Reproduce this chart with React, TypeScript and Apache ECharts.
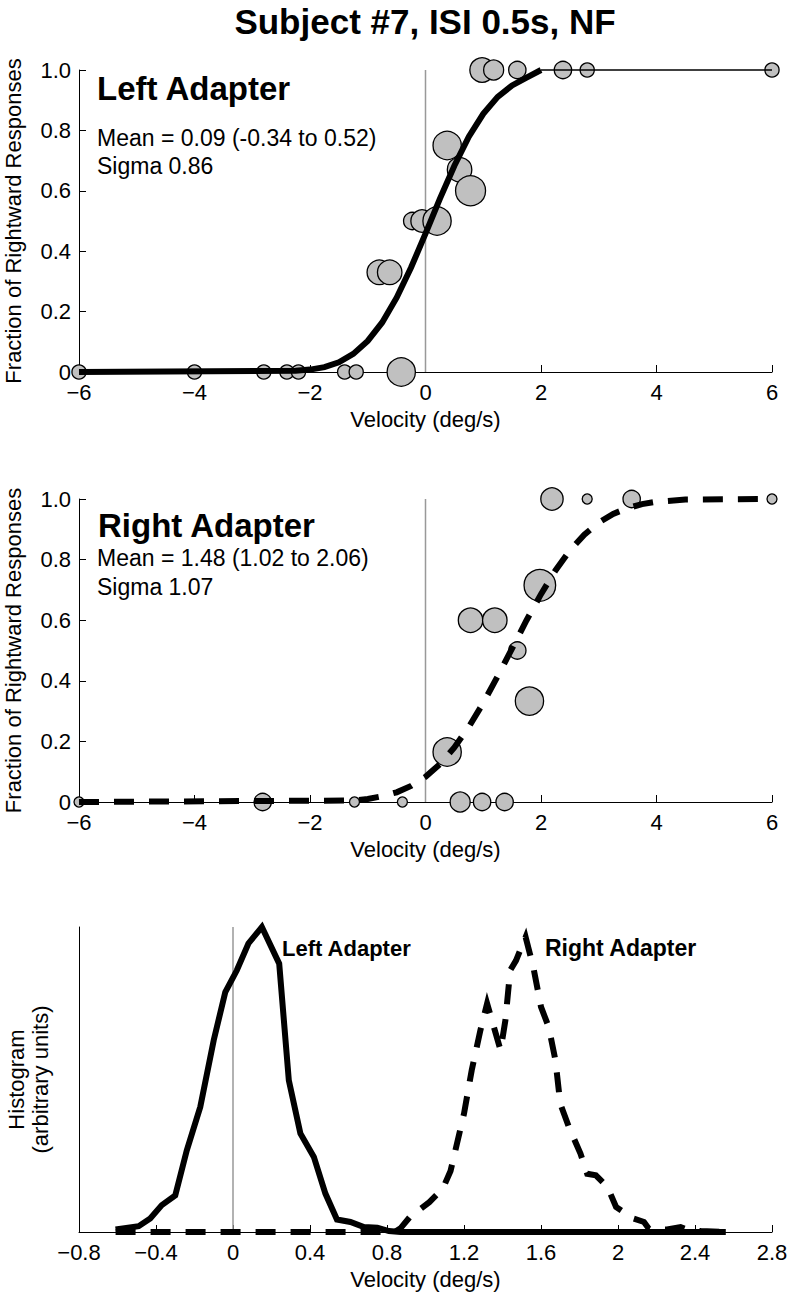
import React, { useEffect, useRef } from "react";
import * as echarts from "echarts";

// ---------- Panel 1: Left Adapter (psychometric data) ----------
const leftV = [-6, -4, -2.8, -2.4, -2.2, -1.4, -1.2, -0.8, -0.62, -0.42, -0.23, -0.06, 0.2, 0.375, 0.59, 0.78, 0.98, 1.18, 1.59, 2.38, 2.8, 6];
const leftFrac = [0, 0, 0, 0, 0, 0, 0, 0.33, 0.33, 0, 0.5, 0.5, 0.5, 0.75, 0.67, 0.6, 1, 1, 1, 1, 1, 1];
const leftN = [2, 2, 2, 2, 2, 2, 2, 6, 6, 8, 3, 5, 8, 8, 6, 9, 6, 4, 3, 3, 2, 2];

const leftFitV = [-6, -2.25, -2, -1.75, -1.5, -1.25, -1, -0.75, -0.5, -0.25, 0, 0.25, 0.5, 0.75, 1, 1.25, 1.5, 1.75, 2];
const leftFitP = [0, 0.004, 0.008, 0.016, 0.032, 0.06, 0.103, 0.164, 0.246, 0.346, 0.458, 0.574, 0.683, 0.779, 0.855, 0.911, 0.949, 0.975, 1.0];
const leftTailV = [2, 6];
const leftTailP = [1, 1];

// ---------- Panel 2: Right Adapter ----------
const rightV = [-6, -2.82, -1.23, -0.4, 0.375, 0.6, 0.78, 0.98, 1.2, 1.37, 1.59, 1.8, 1.98, 2.19, 2.8, 3.57, 6];
const rightFrac = [0, 0, 0, 0, 0.165, 0, 0.6, 0, 0.6, 0, 0.5, 0.333, 0.715, 1, 1, 1, 1];
const rightN = [1, 3, 1, 1, 8, 4, 6, 3, 6, 3, 3, 8, 10, 5, 1, 3, 1];

const rightFitV = [-6, -1.25, -1, -0.75, -0.5, -0.25, 0, 0.25, 0.5, 0.75, 1, 1.25, 1.5, 1.75, 2, 2.25, 2.5, 2.75, 3, 3.25, 3.5, 3.75, 4, 4.5, 6];
const rightFitP = [0, 0.005, 0.01, 0.019, 0.032, 0.053, 0.083, 0.125, 0.18, 0.248, 0.327, 0.415, 0.507, 0.6, 0.686, 0.764, 0.83, 0.882, 0.922, 0.951, 0.97, 0.983, 0.991, 0.998, 1];

// ---------- Panel 3: Histograms ----------
const histLeftV = [-0.61, -0.49, -0.43, -0.37, -0.3, -0.24, -0.17, -0.1, -0.04, 0.02, 0.08, 0.15, 0.24, 0.29, 0.35, 0.42, 0.48, 0.54, 0.61, 0.68, 0.75, 0.81, 0.87, 2.56];
const histLeftH = [0.008, 0.019, 0.044, 0.088, 0.12, 0.268, 0.41, 0.629, 0.787, 0.858, 0.946, 1.0, 0.88, 0.497, 0.323, 0.246, 0.126, 0.041, 0.033, 0.016, 0.014, 0.003, 0, 0];
const histRightV = [-0.61, 0.84, 0.87, 0.92, 1.02, 1.09, 1.13, 1.2, 1.24, 1.285, 1.32, 1.39, 1.415, 1.44, 1.47, 1.52, 1.56, 1.6, 1.64, 1.675, 1.7, 1.745, 1.805, 1.84, 1.885, 1.945, 1.99, 2.08, 2.135, 2.16, 2.255, 2.325, 2.35, 2.43, 2.56];
const histRightH = [0, 0, 0.012, 0.05, 0.098, 0.142, 0.2, 0.388, 0.53, 0.661, 0.749, 0.596, 0.694, 0.858, 0.89, 0.967, 0.869, 0.738, 0.672, 0.563, 0.421, 0.344, 0.257, 0.191, 0.186, 0.148, 0.082, 0.044, 0.033, 0.011, 0.008, 0.016, 0.01, 0.003, 0];

const zeroLineX = [0, 0];
const zeroLineY = [0, 1];

const FONT = "'Liberation Sans', Arial, Helvetica, sans-serif";

const pairs = (xs: number[], ys: number[]) => xs.map((x, i) => [x, ys[i]]);
const triples = (xs: number[], ys: number[], ns: number[]) => xs.map((x, i) => [x, ys[i], ns[i]]);

const numFmt = (v: number) => {
  const r = Math.round(v * 10) / 10;
  return r < 0 ? "\u2212" + String(-r) : String(r);
};
const fracFmt = (v: number) => (Math.abs(v) < 1e-9 ? "0" : v.toFixed(1));

const textStyle = { color: "#000", fontSize: 22, fontFamily: FONT };

function xAxisFor(gridIndex: number, min: number, max: number, interval: number) {
  return {
    gridIndex,
    type: "value",
    min,
    max,
    interval,
    axisLine: { show: true, onZero: false, lineStyle: { color: "#000", width: 1 } },
    axisTick: { show: true, inside: true, length: 7, lineStyle: { color: "#000", width: 1 } },
    axisLabel: { ...textStyle, margin: 9, formatter: numFmt, showMinLabel: true, showMaxLabel: true },
    splitLine: { show: false },
    name: "Velocity (deg/s)",
    nameLocation: "middle",
    nameGap: 36,
    nameTextStyle: textStyle,
  };
}

function yAxisFrac(gridIndex: number) {
  return {
    gridIndex,
    type: "value",
    min: 0,
    max: 1,
    interval: 0.2,
    axisLine: { show: true, onZero: false, lineStyle: { color: "#000", width: 1 } },
    axisTick: { show: true, inside: true, length: 7, lineStyle: { color: "#000", width: 1 } },
    axisLabel: { ...textStyle, margin: 8, formatter: fracFmt, showMinLabel: true, showMaxLabel: true },
    splitLine: { show: false },
    name: "Fraction of Rightward Responses",
    nameLocation: "middle",
    nameGap: 55,
    nameTextStyle: textStyle,
  };
}

function scatterSeries(idx: number, data: number[][]) {
  return {
    type: "scatter",
    xAxisIndex: idx,
    yAxisIndex: idx,
    data,
    symbol: "circle",
    symbolSize: (val: number[]) => 10 * Math.sqrt(val[2]),
    itemStyle: { color: "#c0c0c0", borderColor: "#000", borderWidth: 1.3, opacity: 1 },
    clip: false,
    z: 2,
    silent: true,
  };
}

function lineSeries(idx: number, data: number[][], width: number, dashed: boolean, z: number, color = "#000") {
  return {
    type: "line",
    xAxisIndex: idx,
    yAxisIndex: idx,
    data,
    showSymbol: false,
    symbol: "none",
    clip: false,
    lineStyle: {
      color,
      width,
      type: dashed ? [20, 15] : "solid",
      cap: "butt",
      join: "miter",
    },
    z,
    silent: true,
  };
}

export default function App() {
  const ref = useRef<HTMLDivElement>(null);

  useEffect(() => {
    if (!ref.current) return;
    const chart = echarts.init(ref.current, null, { renderer: "svg" });

    const option: any = {
      animation: false,
      backgroundColor: "#fff",
      textStyle: { fontFamily: FONT },
      grid: [
        { left: 79, top: 70, width: 693, height: 302, outerBoundsMode: "none", containLabel: false },
        { left: 79, top: 499, width: 693, height: 303, outerBoundsMode: "none", containLabel: false },
        { left: 79, top: 927, width: 693, height: 305, outerBoundsMode: "none", containLabel: false },
      ],
      xAxis: [xAxisFor(0, -6, 6, 2), xAxisFor(1, -6, 6, 2), xAxisFor(2, -0.8, 2.8, 0.4)],
      yAxis: [
        yAxisFrac(0),
        yAxisFrac(1),
        {
          gridIndex: 2,
          type: "value",
          min: 0,
          max: 1,
          axisLine: { show: true, onZero: false, lineStyle: { color: "#000", width: 1 } },
          axisTick: { show: false },
          axisLabel: { show: false },
          splitLine: { show: false },
          name: "Histogram\n(arbitrary units)",
          nameLocation: "middle",
          nameGap: 27,
          nameTextStyle: { ...textStyle, lineHeight: 24, align: "center" },
        },
      ],
      series: [
        lineSeries(0, pairs(zeroLineX, zeroLineY), 1.5, false, 1, "#999"),
        scatterSeries(0, triples(leftV, leftFrac, leftN)),
        lineSeries(0, pairs(leftFitV, leftFitP), 6, false, 3),
        lineSeries(0, pairs(leftTailV, leftTailP), 1.5, false, 3),

        lineSeries(1, pairs(zeroLineX, zeroLineY), 1.5, false, 1, "#999"),
        scatterSeries(1, triples(rightV, rightFrac, rightN)),
        lineSeries(1, pairs(rightFitV, rightFitP), 6, true, 3),

        lineSeries(2, pairs(zeroLineX, zeroLineY), 1.5, false, 1, "#999"),
        lineSeries(2, pairs(histRightV, histRightH), 6, true, 3),
        lineSeries(2, pairs(histLeftV, histLeftH), 6, false, 4),
      ],
      graphic: [
        {
          type: "text",
          x: 425,
          y: 21,
          style: { text: "Subject #7, ISI 0.5s, NF", fill: "#000", font: `bold 35px ${FONT}`, align: "center", verticalAlign: "middle" },
        },
        {
          type: "text",
          x: 97,
          y: 88,
          style: { text: "Left Adapter", fill: "#000", font: `bold 33px ${FONT}`, align: "left", verticalAlign: "middle" },
        },
        {
          type: "text",
          x: 97,
          y: 138,
          style: { text: "Mean = 0.09 (-0.34 to 0.52)", fill: "#000", font: `23px ${FONT}`, align: "left", verticalAlign: "middle" },
        },
        {
          type: "text",
          x: 97,
          y: 166,
          style: { text: "Sigma 0.86", fill: "#000", font: `23px ${FONT}`, align: "left", verticalAlign: "middle" },
        },
        {
          type: "text",
          x: 98,
          y: 525,
          style: { text: "Right Adapter", fill: "#000", font: `bold 33px ${FONT}`, align: "left", verticalAlign: "middle" },
        },
        {
          type: "text",
          x: 97,
          y: 558,
          style: { text: "Mean = 1.48 (1.02 to 2.06)", fill: "#000", font: `23px ${FONT}`, align: "left", verticalAlign: "middle" },
        },
        {
          type: "text",
          x: 97,
          y: 587,
          style: { text: "Sigma 1.07", fill: "#000", font: `23px ${FONT}`, align: "left", verticalAlign: "middle" },
        },
        {
          type: "text",
          x: 282,
          y: 948,
          style: { text: "Left Adapter", fill: "#000", font: `bold 22px ${FONT}`, align: "left", verticalAlign: "middle" },
        },
        {
          type: "text",
          x: 545,
          y: 948,
          style: { text: "Right Adapter", fill: "#000", font: `bold 23px ${FONT}`, align: "left", verticalAlign: "middle" },
        },
      ],
    };

    chart.setOption(option);
    return () => chart.dispose();
  }, []);

  return (
    <div
      ref={ref}
      style={{ position: "absolute", left: 0, top: 0, width: 789, height: 1295, background: "#fff" }}
    />
  );
}
